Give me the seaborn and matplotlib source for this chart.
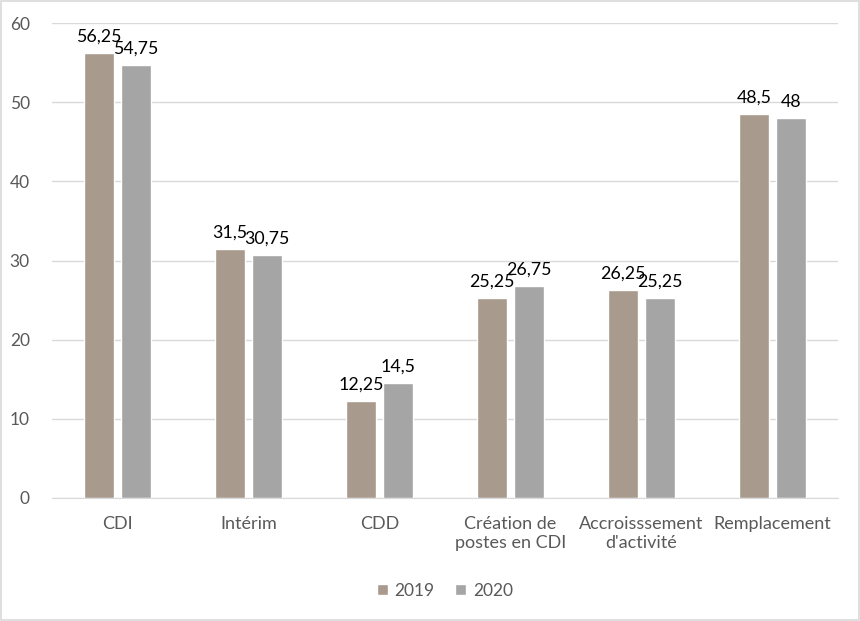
import matplotlib
matplotlib.use("Agg")
import matplotlib.pyplot as plt
import seaborn as sns
import pandas as pd

categories = ["CDI", "Intérim", "CDD", "Création de\npostes en CDI", "Accroisssement\nd'activité", "Remplacement"]
values_2019 = [56.25, 31.5, 12.25, 25.25, 26.25, 48.5]
values_2020 = [54.75, 30.75, 14.5, 26.75, 25.25, 48]
series = ["2019", "2020"]
colors = ["#A89A8C", "#A5A5A5"]

df = pd.DataFrame({
    "cat": categories * 2,
    "val": values_2019 + values_2020,
    "year": [series[0]] * len(categories) + [series[1]] * len(categories),
})

sns.set_style("white")
plt.rcParams["font.family"] = ["Lato", "DejaVu Sans"]

fig = plt.figure(figsize=(8.6, 6.21), dpi=100)
ax = fig.add_axes([52/860, 1-498/621, (838-52)/860, (498-23)/621])

sns.barplot(data=df, x="cat", y="val", hue="year", palette=colors, order=categories,
            hue_order=series, width=0.56, gap=0.2, ax=ax, legend=True, saturation=1)

def fmt(v):
    s = ("%g" % v).replace(".", ",")
    return s

for cont in ax.containers:
    labels = [fmt(b.get_height()) for b in cont]
    ax.bar_label(cont, labels=labels, padding=6, fontsize=12.8, color="#000000")

ax.set_ylim(0, 60)
ax.set_yticks(range(0, 61, 10))
ax.yaxis.grid(True, color="#D9D9D9", linewidth=1)
ax.set_axisbelow(True)
ax.set_xlabel("")
ax.set_ylabel("")
for s in ["top", "right", "left"]:
    ax.spines[s].set_visible(False)
ax.spines["bottom"].set_color("#D9D9D9")
ax.tick_params(axis="y", length=0, labelsize=12.5, labelcolor="#595959", pad=16)
ax.tick_params(axis="x", length=0, labelsize=13, labelcolor="#595959", pad=13)

leg = ax.legend(loc="upper center", bbox_to_anchor=(0.5, -0.145), ncol=2, frameon=False,
                fontsize=12.5, handlelength=0.6, handleheight=0.6, handletextpad=0.4,
                columnspacing=1.2, labelcolor="#595959")

fig.patches.append(plt.Rectangle((0.001, 0.001), 0.998, 0.998, transform=fig.transFigure,
                                 fill=False, edgecolor="#D9D9D9", linewidth=1.2))
fig.savefig("out.png", dpi=100, facecolor="white")
